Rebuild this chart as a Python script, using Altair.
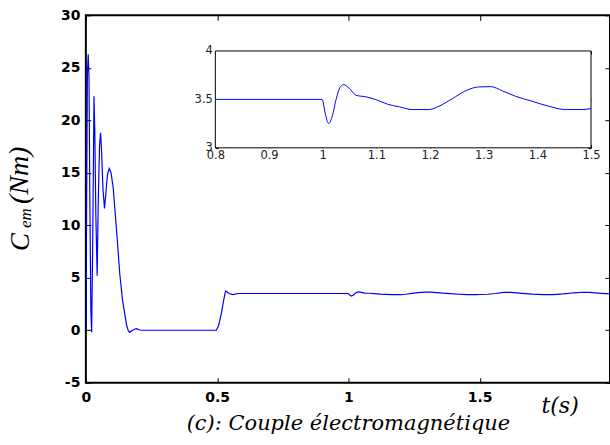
import altair as alt
import pandas as pd

# ---- data ----
t_vals = [0, 0.003, 0.006, 0.009, 0.012, 0.015, 0.019, 0.022, 0.026, 0.031,
          0.034, 0.038, 0.043, 0.047, 0.052, 0.056, 0.060, 0.065, 0.071, 0.076,
          0.082, 0.089, 0.096, 0.104, 0.110, 0.120, 0.129, 0.140, 0.148, 0.155,
          0.161, 0.166, 0.175, 0.185, 0.193, 0.202, 0.212, 0.3, 0.4, 0.497,
          0.505, 0.516, 0.525, 0.532, 0.538, 0.545, 0.56, 0.58, 0.6, 0.7,
          0.8, 0.9, 0.999, 1.005, 1.011, 1.018, 1.025, 1.032, 1.0385, 1.050,
          1.062, 1.081, 1.099, 1.121, 1.143, 1.167, 1.198, 1.217, 1.242, 1.266,
          1.291, 1.313, 1.335, 1.359, 1.390, 1.421, 1.452, 1.483, 1.5, 1.53,
          1.56, 1.59, 1.62, 1.66, 1.70, 1.74, 1.78, 1.82, 1.86, 1.89,
          1.92, 1.96, 2.0]
c_vals = [0, 12, 24.5, 26.3, 24, 13, 2, -0.2, 8, 22.3,
          19, 11, 5.2, 12, 17.5, 18.8, 17, 13.5, 11.6, 13,
          14.8, 15.4, 15, 13.6, 11.7, 8.5, 5.4, 2.8, 1.6, 0.5,
          0, -0.2, -0.05, 0.1, 0.15, 0.05, 0, 0, 0, 0,
          0.4, 1.6, 2.9, 3.74, 3.65, 3.5, 3.4, 3.5, 3.5, 3.5,
          3.5, 3.5, 3.5, 3.35, 3.251, 3.33, 3.5, 3.62, 3.653, 3.612,
          3.543, 3.526, 3.498, 3.45, 3.423, 3.395, 3.395, 3.43, 3.509, 3.588,
          3.629, 3.632, 3.588, 3.533, 3.481, 3.43, 3.395, 3.395, 3.405, 3.43,
          3.5, 3.6, 3.6, 3.52, 3.44, 3.40, 3.40, 3.47, 3.57, 3.62,
          3.6, 3.52, 3.45]

main_x_ticks = [0, 0.5, 1, 1.5, 2]
main_y_ticks = [-5, 0, 5, 10, 15, 20, 25, 30]
inset_x_ticks = [0.8, 0.9, 1.0, 1.1, 1.2, 1.3, 1.4, 1.5]
inset_y_ticks = [3, 3.5, 4]

df = pd.DataFrame({"t": t_vals, "c": c_vals})
box = pd.DataFrame({"x0": [0.8], "x1": [1.5], "y0": [3], "y1": [4]})

SANS = "DejaVu Sans"
SERIF = "Liberation Serif"
WSERIF = "DejaVu Serif"
BLUE = "#0000ff"

W, H = 525, 368

main_x = alt.Scale(domain=[0, 525 / 263], nice=False, zero=False)
main_y = alt.Scale(domain=[-5, 30], nice=False, zero=False)
ins_x = alt.Scale(domain=[0.8, 1.5], range=[129.7, 506], nice=False, zero=False)
ins_y = alt.Scale(domain=[3, 4], range=[132.7, 35.7], nice=False, zero=False)

def ax(**kw):
    base = dict(grid=False, domain=False, title=None, tickColor="black",
                labelColor="black", labelOverlap=False, labelFlush=False,
                labelBound=False, labelExpr="'' + datum.value")
    base.update(kw)
    return alt.Axis(**base)

main_line = alt.Chart(df).mark_line(color=BLUE, strokeWidth=1.2, clip=True).encode(
    x=alt.X("t:Q", scale=main_x,
            axis=ax(orient="bottom", values=main_x_ticks, offset=-5, tickSize=5,
                    labelFont=SANS, labelFontWeight="bold", labelFontSize=14,
                    labelPadding=8, tickWidth=1)),
    y=alt.Y("c:Q", scale=main_y,
            axis=ax(orient="left", values=main_y_ticks, offset=-5, tickSize=5,
                    labelFont=SANS, labelFontWeight="bold", labelFontSize=14,
                    labelPadding=6, tickWidth=1)),
)

main_mirror = alt.Chart(df).mark_line(opacity=0).encode(
    x=alt.X("t:Q", scale=main_x,
            axis=ax(orient="top", values=main_x_ticks, offset=-5, tickSize=5,
                    labels=False)),
    y=alt.Y("c:Q", scale=main_y,
            axis=ax(orient="right", values=main_y_ticks, offset=-5, tickSize=5,
                    labels=False)),
)

inset_box = alt.Chart(box).mark_rect(fill="white", stroke="black", strokeWidth=1).encode(
    x=alt.X("x0:Q", scale=ins_x, axis=None),
    x2="x1:Q",
    y=alt.Y("y0:Q", scale=ins_y, axis=None),
    y2="y1:Q",
)

inset_data = alt.Chart(df).transform_filter(
    (alt.datum.t >= 0.8) & (alt.datum.t <= 1.5)
)

inset_line = inset_data.mark_line(color=BLUE, strokeWidth=1, interpolate="monotone").encode(
    x=alt.X("t:Q", scale=ins_x,
            axis=ax(orient="bottom", values=inset_x_ticks, offset=-(H - 132.7 + 3),
                    tickSize=3, labelFont=SANS, labelFontSize=11.5,
                    labelColor="#222222", labelPadding=2)),
    y=alt.Y("c:Q", scale=ins_y,
            axis=ax(orient="left", values=inset_y_ticks, offset=-(129.7 + 3),
                    tickSize=3, labelFont=SANS, labelFontSize=11.5,
                    labelColor="#222222", labelPadding=3)),
)

inset_mirror = inset_data.mark_line(opacity=0).encode(
    x=alt.X("t:Q", scale=ins_x,
            axis=ax(orient="top", values=inset_x_ticks, offset=-(35.7 + 3),
                    tickSize=3, labels=False)),
    y=alt.Y("c:Q", scale=ins_y,
            axis=ax(orient="right", values=inset_y_ticks, offset=-(W - 506 + 3),
                    tickSize=3, labels=False)),
)

def label(txt, x, y, size, angle=0, align="left", font=SERIF):
    return alt.Chart(pd.DataFrame({"s": [txt]})).mark_text(
        font=font, fontStyle="italic", fontSize=size, color="black",
        align=align, baseline="alphabetic", angle=angle,
    ).encode(text="s:N", x=alt.value(x), y=alt.value(y))

y_c = label("C", -57, 236, 27, angle=270)
y_em = label("em", -55, 213, 17, angle=270)
y_nm = label("(Nm)", -58, 189, 28, angle=270)
x_t = label("t(s)", 475, 398, 22, align="center", font=WSERIF)
title = label("(c): Couple électromagnétique", 263, 415, 21, align="center", font=WSERIF)

chart = alt.layer(
    main_line, main_mirror, inset_box, inset_line, inset_mirror,
    y_c, y_em, y_nm, x_t, title,
).resolve_scale(x="independent", y="independent").properties(
    width=W, height=H,
    autosize=alt.AutoSizeParams(type="none"),
    padding={"left": 86, "top": 15, "right": 0, "bottom": 62},
    background="white",
).configure_view(stroke="black", strokeWidth=2)

chart.save("out.html", embed_options={"renderer": "svg", "actions": False})
